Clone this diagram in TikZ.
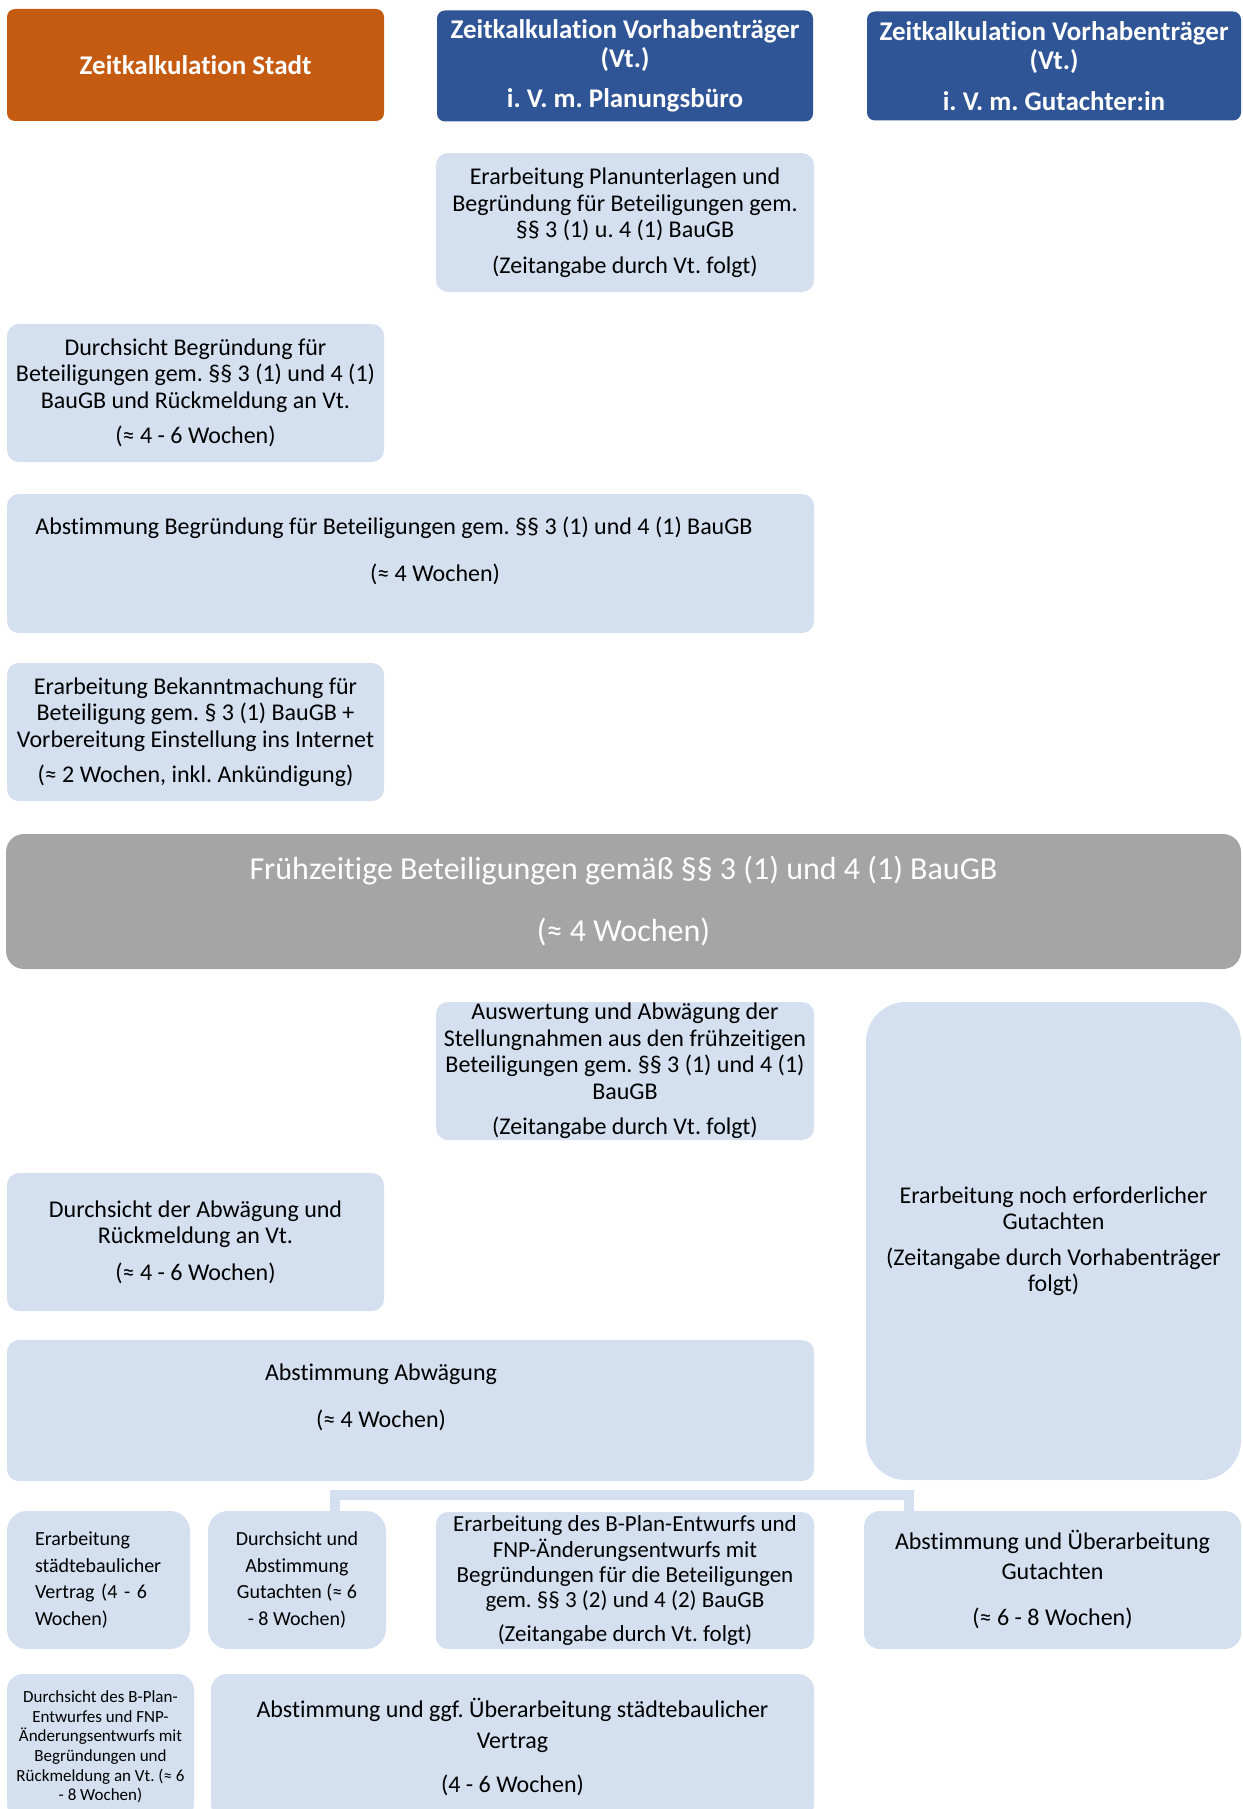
\documentclass[tikz,border=0pt]{standalone}
\usepackage{fontspec}
\setmainfont{Carlito}[Ligatures=NoCommon]
\frenchspacing
\definecolor{stadtorange}{HTML}{C55A11}
\definecolor{vtblau}{HTML}{2F5597}
\definecolor{feldblau}{HTML}{D4DFEF}
\definecolor{balkengrau}{HTML}{A5A5A5}
\tikzset{
	feld/.style={fill=feldblau, rounded corners=6pt, align=center, inner sep=0pt, font=\fontsize{12}{13.25}\selectfont},
	kopf/.style={rounded corners=4pt, text=white, align=center, inner sep=0pt, font=\bfseries\fontsize{13.5}{14.4}\selectfont},
	balken/.style={fill=balkengrau, rounded corners=9pt, text=white, align=center, inner sep=0pt, font=\fontsize{16}{18}\selectfont},
	textfeld/.style={inner sep=0pt, align=center},
	verbindung/.style={draw=feldblau, line width=5pt}
}
\begin{document}
\begin{tikzpicture}[x=0.5pt,y=-0.5pt]
	\useasboundingbox (0,0) rectangle (1242,1809);
	\clip (0,0) rectangle (1242,1809);

	% Spaltenkoepfe
	\node[kopf, fill=stadtorange, minimum width=188.5pt, minimum height=56pt] (stadt) at (195.5,65) {Zeitkalkulation Stadt};
	\node[kopf, fill=vtblau, minimum width=188pt, minimum height=55.5pt] (planung) at (625,66) {Zeitkalkulation Vorhabenträger\\(Vt.)\\[6pt]i. V. m. Planungsbüro};
	\node[kopf, fill=vtblau, minimum width=187pt, minimum height=54.5pt] (gutachter) at (1054,66) {Zeitkalkulation Vorhabenträger\\(Vt.)\\[6pt]i. V. m. Gutachter:in};

	% vor der fruehzeitigen Beteiligung
	\node[feld, minimum width=189pt, minimum height=69.5pt] (planunterlagen) at (625,222.5) {Erarbeitung Planunterlagen und\\Begründung für Beteiligungen gem.\\§§ 3 (1) u. 4 (1) BauGB\\[4.5pt](Zeitangabe durch Vt. folgt)};
	\node[feld, minimum width=188.5pt, minimum height=69pt] (durchsicht) at (195.5,393) {Durchsicht Begründung für\\Beteiligungen gem. §§ 3 (1) und 4 (1)\\BauGB und Rückmeldung an Vt.\\[4.5pt](≈ 4 - 6 Wochen)};
	\node[feld, minimum width=403.5pt, minimum height=69.5pt] (abstimmung) at (410.5,563.5) {};
	\node[textfeld, font=\fontsize{12}{13.25}\selectfont] (abstimmungtext) at (394,528) {Abstimmung Begründung für Beteiligungen gem. §§ 3 (1) und 4 (1) BauGB};
	\node[textfeld, font=\fontsize{12}{13.25}\selectfont] (abstimmungzeit) at (435,574) {(≈ 4 Wochen)};
	\node[feld, minimum width=188.5pt, minimum height=69pt] (bekanntmachung) at (195.5,732) {Erarbeitung Bekanntmachung für\\Beteiligung gem. § 3 (1) BauGB +\\Vorbereitung Einstellung ins Internet\\[4.5pt](≈ 2 Wochen, inkl. Ankündigung)};

	\node[balken, minimum width=617.5pt, minimum height=67.5pt] (beteiligung) at (623.5,901.5) {Frühzeitige Beteiligungen gemäß §§ 3 (1) und 4 (1) BauGB\\[13pt](≈ 4 Wochen)};

	% nach der fruehzeitigen Beteiligung
	\node[feld, minimum width=189pt, minimum height=69pt] (auswertung) at (625,1071) {Auswertung und Abwägung der\\Stellungnahmen aus den frühzeitigen\\Beteiligungen gem. §§ 3 (1) und 4 (1)\\BauGB\\[4.5pt](Zeitangabe durch Vt. folgt)};
	\node[feld, rounded corners=20pt, minimum width=187.5pt, minimum height=239pt] (gutachten) at (1053.5,1241) {Erarbeitung noch erforderlicher\\Gutachten\\[4.5pt](Zeitangabe durch Vorhabenträger\\folgt)};
	\node[feld, minimum width=188.5pt, minimum height=69pt] (abwaegung) at (195.5,1242) {Durchsicht der Abwägung und\\Rückmeldung an Vt.\\[5pt](≈ 4 - 6 Wochen)};
	\node[feld, minimum width=403.5pt, minimum height=70.5pt] (abstabwaegung) at (410.5,1410.5) {};
	\node[textfeld, font=\fontsize{12}{14.4}\selectfont] (abstabwaegungtext) at (381,1397) {Abstimmung Abwägung\\[9pt](≈ 4 Wochen)};

	% Entwurf
	\node[feld, rounded corners=10pt, minimum width=91.5pt, minimum height=69pt, text width=63.5pt, align=left, font=\fontsize{10}{13.25}\selectfont] (vertrag) at (98.5,1580) {Erarbeitung\\städtebaulicher\\Vertrag (4 - 6\\Wochen)};
	\node[feld, rounded corners=10pt, minimum width=89pt, minimum height=69pt, font=\fontsize{10}{13.25}\selectfont] (gutdurchsicht) at (297,1580) {Durchsicht und\\Abstimmung\\Gutachten (≈ 6\\- 8 Wochen)};
	\node[feld, minimum width=189pt, minimum height=68.5pt, font=\fontsize{11.5}{12.7}\selectfont] (entwurf) at (625,1580.5) {Erarbeitung des B-Plan-Entwurfs und\\FNP-Änderungsentwurfs mit\\Begründungen für die Beteiligungen\\gem. §§ 3 (2) und 4 (2) BauGB\\[4pt](Zeitangabe durch Vt. folgt)};
	\node[feld, rounded corners=8pt, minimum width=188.5pt, minimum height=69pt, font=\fontsize{12}{15}\selectfont] (gutabstimmung) at (1052.5,1580) {Abstimmung und Überarbeitung\\Gutachten\\[8pt](≈ 6 - 8 Wochen)};
	\draw[verbindung] ([xshift=19pt]gutdurchsicht.north) -- ++(0,-16) -| ([xshift=-71.75pt]gutabstimmung.north);

	\node[feld, rounded corners=8pt, minimum width=93.5pt, minimum height=73pt, font=\fontsize{8.5}{9.8}\selectfont] (entwurfdurchsicht) at (100.5,1747) {Durchsicht des B-Plan-\\Entwurfes und FNP-\\Änderungsentwurfs mit\\Begründungen und\\Rückmeldung an Vt. (≈ 6\\- 8 Wochen)};
	\node[feld, rounded corners=8pt, minimum width=301.5pt, minimum height=73pt, font=\fontsize{12}{15.5}\selectfont] (vertragabstimmung) at (512.5,1747) {Abstimmung und ggf. Überarbeitung städtebaulicher\\Vertrag\\[6.5pt](4 - 6 Wochen)};
\end{tikzpicture}
\end{document}
